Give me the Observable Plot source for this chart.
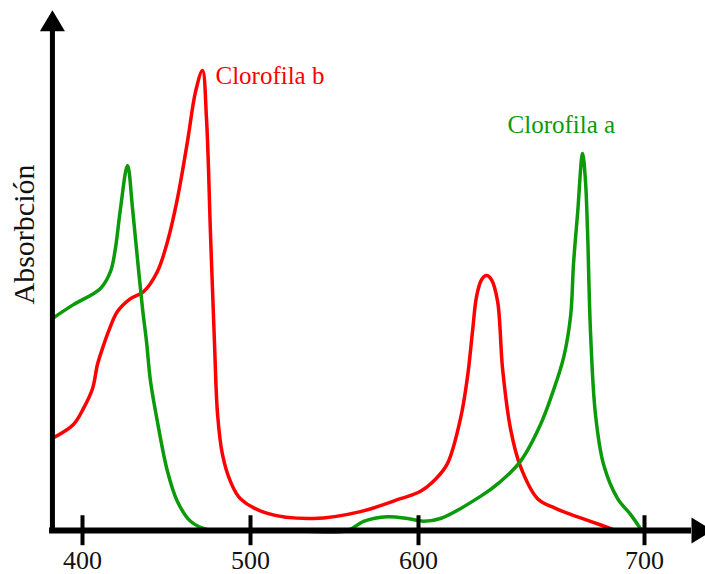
<!DOCTYPE html>
<html>
<head>
<meta charset="utf-8">
<script src="https://cdn.jsdelivr.net/npm/d3@7"></script>
<script src="https://cdn.jsdelivr.net/npm/@observablehq/plot@0.6"></script>
<style>
  html, body { margin: 0; padding: 0; background: #ffffff; }
  #chart svg { display: block; font-family: "Liberation Serif", "DejaVu Serif", serif; }
</style>
</head>
<body>
<div id="chart"></div>
<script>
// ---- data (wavelength nm, relative absorbance) ----
const tickValues = [400, 500, 600, 700];
const tickLabels = ["400", "500", "600", "700"];

const chlAWavelength = [382.1, 394.6, 410.7, 416.7, 419.6, 422.6, 426.8, 429.8, 432.7, 435.7, 438.1, 440.5, 444.6, 450.6, 456.5, 464.3, 474.4, 520, 557.7, 567.3, 581.5, 593.5, 602.2, 609.7, 627.4, 636, 645.1, 654.0, 659.7, 664.2, 667.3, 668.6, 670.4, 672.6, 673.9, 674.8, 676.1, 678.3, 681.9, 688.1, 693.8, 698.2];
const chlAAbsorb    = [0.460, 0.490, 0.525, 0.562, 0.612, 0.698, 0.792, 0.698, 0.590, 0.482, 0.410, 0.323, 0.236, 0.128, 0.063, 0.020, 0.002, 0, 0, 0.020, 0.030, 0.026, 0.020, 0.026, 0.074, 0.105, 0.150, 0.230, 0.304, 0.375, 0.465, 0.579, 0.688, 0.818, 0.757, 0.649, 0.432, 0.252, 0.143, 0.069, 0.035, 0.004];

const chlBWavelength = [382.1, 394.6, 400.6, 406.0, 408.9, 411.9, 415.5, 420.8, 428.6, 436.3, 444.6, 450.6, 456.5, 462.5, 467.3, 471.4, 473.8, 476.2, 478.6, 480.4, 483.3, 488.1, 494.0, 510.1, 537.5, 565.5, 589.3, 600.9, 607.5, 612.8, 618.6, 621.7, 623.9, 625.7, 627.9, 630.1, 632.3, 635.0, 637.2, 640.7, 645.1, 652.7, 660.6, 667.3, 676.1, 686.3];
const chlBAbsorb    = [0.200, 0.230, 0.265, 0.308, 0.360, 0.395, 0.432, 0.475, 0.503, 0.518, 0.562, 0.627, 0.720, 0.844, 0.952, 0.998, 0.894, 0.642, 0.403, 0.252, 0.165, 0.106, 0.069, 0.037, 0.026, 0.041, 0.069, 0.085, 0.111, 0.145, 0.243, 0.334, 0.432, 0.508, 0.544, 0.553, 0.544, 0.497, 0.351, 0.221, 0.139, 0.069, 0.048, 0.035, 0.020, 0.002];

const seriesNames = ["Clorofila a", "Clorofila b"];
const yLabel = "Absorbción";

// ---- build tables ----
const chlA = chlAWavelength.map((w, i) => ({w, a: chlAAbsorb[i]}));
const chlB = chlBWavelength.map((w, i) => ({w, a: chlBAbsorb[i]}));
const peakA = chlA.reduce((m, d) => d.a > m.a ? d : m);
const peakB = chlB.reduce((m, d) => d.a > m.a ? d : m);

const green = "#0a9a0a";
const red = "#ff0000";

// the drawn axis is wider above 600 nm than below it (as in the original)
const stretch = 2.26 / 1.68;
const warp = w => w <= 600 ? w : 600 + (w - 600) * stretch;

// arrowhead symbols
const arrowUp = {draw(ctx) { ctx.moveTo(0, -21); ctx.lineTo(12.5, 0); ctx.lineTo(-12.5, 0); ctx.closePath(); }};
const arrowRight = {draw(ctx) { ctx.moveTo(21, 0); ctx.lineTo(0, -13); ctx.lineTo(0, 13); ctx.closePath(); }};

const xLeft = 382.1, xRight = 720.8, yTop = 1.083;

const chart = Plot.plot({
  width: 705,
  height: 574,
  margin: 0,
  style: {background: "#ffffff", fontFamily: "Liberation Serif, serif"},
  x: {transform: warp, domain: [400, warp(700)], range: [82, 644], axis: null},
  y: {domain: [0, 1], range: [530, 69], axis: null},
  marks: [
    Plot.line(chlB, {x: "w", y: "a", stroke: red, strokeWidth: 3.5, curve: "catmull-rom"}),
    Plot.line(chlA, {x: "w", y: "a", stroke: green, strokeWidth: 3.5, curve: "catmull-rom"}),
    // axes
    Plot.ruleY([0], {x1: 380.4, x2: xRight, stroke: "#000", strokeWidth: 6}),
    Plot.ruleX([xLeft], {y1: -0.006, y2: yTop, stroke: "#000", strokeWidth: 5}),
    Plot.ruleX(tickValues, {y1: 0.032, y2: -0.033, stroke: "#000", strokeWidth: 4}),
    Plot.text(tickValues, {x: d => d, y: 0, text: (d, i) => tickLabels[i], dy: 30, fontSize: 26, fill: "#111", lineAnchor: "middle"}),
    Plot.dot([0], {x: xLeft, y: yTop, symbol: arrowUp, fill: "#000", stroke: "none"}),
    Plot.dot([0], {x: xRight, y: 0, symbol: arrowRight, fill: "#000", stroke: "none"}),
    // series labels
    Plot.text([peakB], {x: "w", y: "a", text: () => seriesNames[1], fill: red, fontSize: 25, textAnchor: "start", lineAnchor: "middle", dx: 13, dy: 6}),
    Plot.text([peakA], {x: "w", y: "a", text: () => seriesNames[0], fill: green, fontSize: 25, textAnchor: "start", lineAnchor: "middle", dx: -75, dy: -28}),
    // y label
    Plot.text([yLabel], {frameAnchor: "top-left", dx: 24, dy: 234, rotate: -90, text: d => d, fontSize: 30, fill: "#111", textAnchor: "middle", lineAnchor: "middle"})
  ]
});
document.getElementById("chart").appendChild(chart);
</script>
</body>
</html>
